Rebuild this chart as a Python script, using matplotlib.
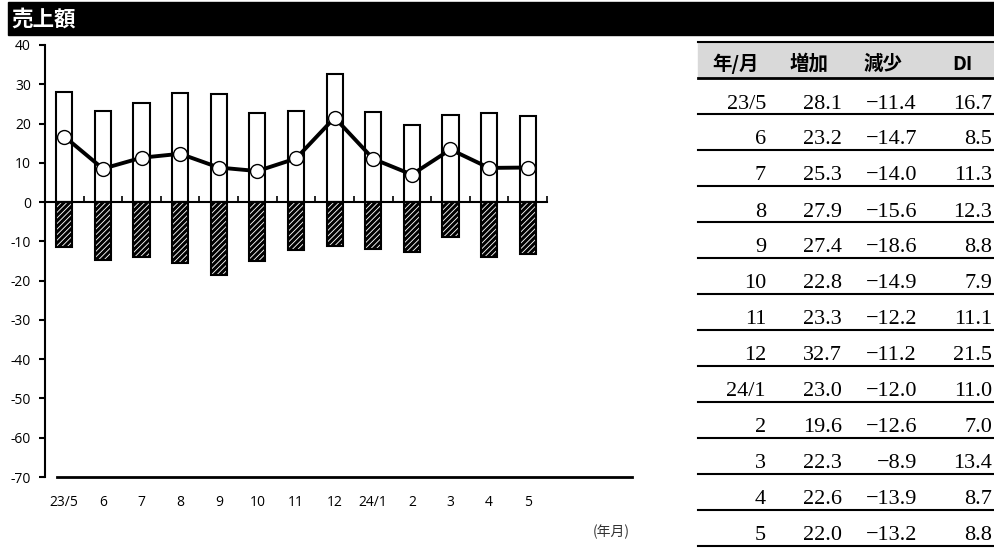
import numpy as np
import matplotlib.pyplot as plt
from matplotlib.lines import Line2D
from matplotlib.patches import Rectangle

months = ['23/5', '6', '7', '8', '9', '10', '11', '12', '24/1', '2', '3', '4', '5']
increase = [28.1, 23.2, 25.3, 27.9, 27.4, 22.8, 23.3, 32.7, 23.0, 19.6, 22.3, 22.6, 22.0]
decrease = [-11.4, -14.7, -14.0, -15.6, -18.6, -14.9, -12.2, -11.2, -12.0, -12.6, -8.9, -13.9, -13.2]
di = [16.7, 8.5, 11.3, 12.3, 8.8, 7.9, 11.1, 21.5, 11.0, 7.0, 13.4, 8.7, 8.8]
headers = ['年/月', '増加', '減少', 'DI']
yticks = list(range(-70, 41, 10))

plt.rcParams['font.family'] = ['Open Sans', 'Noto Sans CJK JP', 'DejaVu Sans']
plt.rcParams['hatch.linewidth'] = 2.2
plt.rcParams['axes.unicode_minus'] = False

W, H = 995, 549
fig = plt.figure(figsize=(W / 100, H / 100), dpi=100)

def fx(px):
    return px / W

def fy(py):
    return 1 - py / H

# title bar
fig.add_artist(Rectangle((fx(8), fy(35)), fx(995 - 8), 33 / H, color='black',
                         transform=fig.transFigure))
fig.text(fx(11), fy(19), '売上額', color='white', fontsize=15.5, fontweight='bold',
         family=['Noto Sans CJK JP'], va='center', ha='left')

# chart
ax = fig.add_axes([fx(45), fy(477), fx(547 - 45), (477 - 45) / H])
x = np.arange(len(months))
ax.bar(x, increase, width=0.42, color='white', edgecolor='black', linewidth=1.5, zorder=2)
ax.bar(x, decrease, width=0.42, color='white', edgecolor='black', linewidth=1.5,
       hatch='//////', zorder=2)
ax.plot(x, di, color='black', linewidth=2.8, marker='o', markersize=10,
        markerfacecolor='white', markeredgecolor='black', markeredgewidth=1.0, zorder=3)

ax.set_xlim(-0.5, len(months) - 0.5)
ax.set_ylim(-70, 40)
ax.set_yticks(yticks)
ax.tick_params(axis='y', direction='out', length=4, width=1.5, labelsize=10, pad=6)
ax.spines['top'].set_visible(False)
ax.spines['right'].set_visible(False)
ax.spines['left'].set_linewidth(1.5)
ax.spines['bottom'].set_position(('data', 0))
ax.spines['bottom'].set_linewidth(1.5)
ax.set_xticks(np.arange(len(months)) + 0.5)
ax.set_xticklabels([])
ax.tick_params(axis='x', direction='in', length=4, width=1.2)
trans = ax.get_xaxis_transform()
for xi, m in zip(x, months):
    ax.text(xi, -25 / 432, m, transform=trans, ha='center', va='center', fontsize=10)

# base line at the bottom
fig.add_artist(Line2D([fx(57), fx(632)], [fy(477), fy(477)], color='black',
                      linewidth=2.0, transform=fig.transFigure))
fig.text(fx(611), fy(532), '(年月)', fontsize=10, color='#333333',
         family=['Noto Sans CJK JP'], ha='center', va='center')

# table
tx0, tx1 = 698, 995
fig.add_artist(Rectangle((fx(tx0), fy(78)), fx(tx1 - tx0), 36 / H, color='#d9d9d9',
                         transform=fig.transFigure))
fig.add_artist(Line2D([fx(tx0), fx(tx1)], [fy(42), fy(42)], color='black',
                      linewidth=1.5, transform=fig.transFigure))
fig.add_artist(Line2D([fx(tx0), fx(tx1)], [fy(78), fy(78)], color='black',
                      linewidth=2.0, transform=fig.transFigure))
head_x = [712, 790, 863, 952]
for hx, h in zip(head_x, headers):
    fig.text(fx(hx), fy(64), h, fontsize=14, fontweight='bold',
             family=['Noto Sans CJK JP'], ha='left', va='center')

col_right = [766, 842, 917, 992]
for i in range(len(months)):
    line_y = 78 + 36 * (i + 1)
    vals = [months[i], f'{increase[i]:.1f}', f'{decrease[i]:.1f}'.replace('-', '−'),
            f'{di[i]:.1f}']
    for cx, v in zip(col_right, vals):
        fig.text(fx(cx), fy(line_y - 10), v, fontsize=16, family=['Liberation Serif'],
                 ha='right', va='center')
    fig.add_artist(Line2D([fx(tx0), fx(tx1)], [fy(line_y), fy(line_y)], color='black',
                          linewidth=1.5, transform=fig.transFigure))

fig.savefig('out.png', dpi=100)
